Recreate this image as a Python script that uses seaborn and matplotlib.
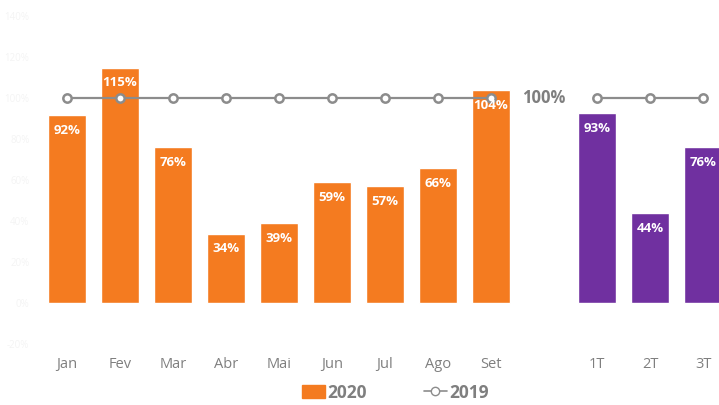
import pandas as pd
import seaborn as sns
import matplotlib.pyplot as plt
from matplotlib.lines import Line2D
from matplotlib.patches import Patch

months = ['Jan', 'Fev', 'Mar', 'Abr', 'Mai', 'Jun', 'Jul', 'Ago', 'Set']
month_vals = [92, 115, 76, 34, 39, 59, 57, 66, 104]
quarters = ['1T', '2T', '3T']
quarter_vals = [93, 44, 76]
ref_2019 = 100

ORANGE = '#F47B20'
PURPLE = '#7030A0'
GRAY = '#7f7f7f'

if __name__ == "__main__":
    sns.set_style('white')
    plt.rcParams['font.family'] = ['Open Sans', 'DejaVu Sans']

    df = pd.DataFrame({
        'label': months + quarters,
        'value': month_vals + quarter_vals,
        'kind': ['mes'] * len(months) + ['tri'] * len(quarters),
    })
    order = months + [''] + quarters

    fig = plt.figure(figsize=(7.19, 4.05), dpi=100)
    ax = fig.add_axes([40.5 / 719, 0.125, 1 - 40.5 / 719, 0.875])

    sns.barplot(data=df, x='label', y='value', hue='kind', order=order,
                palette={'mes': ORANGE, 'tri': PURPLE}, dodge=False,
                width=0.72, legend=False, ax=ax, saturation=1)

    # 2019 reference line, broken at the gap
    for cats in (months, quarters):
        xs = [order.index(c) for c in cats]
        ax.plot(xs, [ref_2019] * len(xs), color='#8c8c8c', lw=1.6,
                marker='o', ms=6, mfc='white', mec='#8c8c8c', mew=1.8, zorder=3)

    # value labels inside the bars
    for lab, v in zip(df['label'], df['value']):
        ax.text(order.index(lab), v - 7.5, f'{v}%', ha='center', va='center',
                color='white', fontsize=9.5, fontweight='bold', zorder=4)

    ax.text(order.index(''), ref_2019, '100%', ha='center', va='center',
            color=GRAY, fontsize=12, fontweight='bold')

    ax.set_xlim(-0.5, 12.3)
    ax.set_ylim(-25, 148)
    ax.set_yticks(range(-20, 141, 20))
    ax.set_yticklabels([f'{t}%' for t in range(-20, 141, 20)])
    ax.tick_params(axis='y', colors='#f4f4f4', labelsize=7, length=0, pad=8)
    ax.tick_params(axis='x', colors=GRAY, labelsize=10.5, length=0, pad=2)
    ax.set_xlabel('')
    ax.set_ylabel('')
    sns.despine(ax=ax, left=True, bottom=True)

    handles = [Patch(color=ORANGE),
               Line2D([], [], color='#8c8c8c', marker='o', mfc='white',
                      mec='#8c8c8c', ms=6, lw=1.2)]
    leg = fig.legend(handles, ['2020', '2019'], loc='lower center',
                     bbox_to_anchor=(0.55, -0.03), ncol=2, frameon=False,
                     handlelength=1.3, handletextpad=0.15, columnspacing=3.3,
                     prop={'weight': 'bold', 'size': 12.5})
    for t in leg.get_texts():
        t.set_color(GRAY)

    fig.savefig('out.png', dpi=100)
